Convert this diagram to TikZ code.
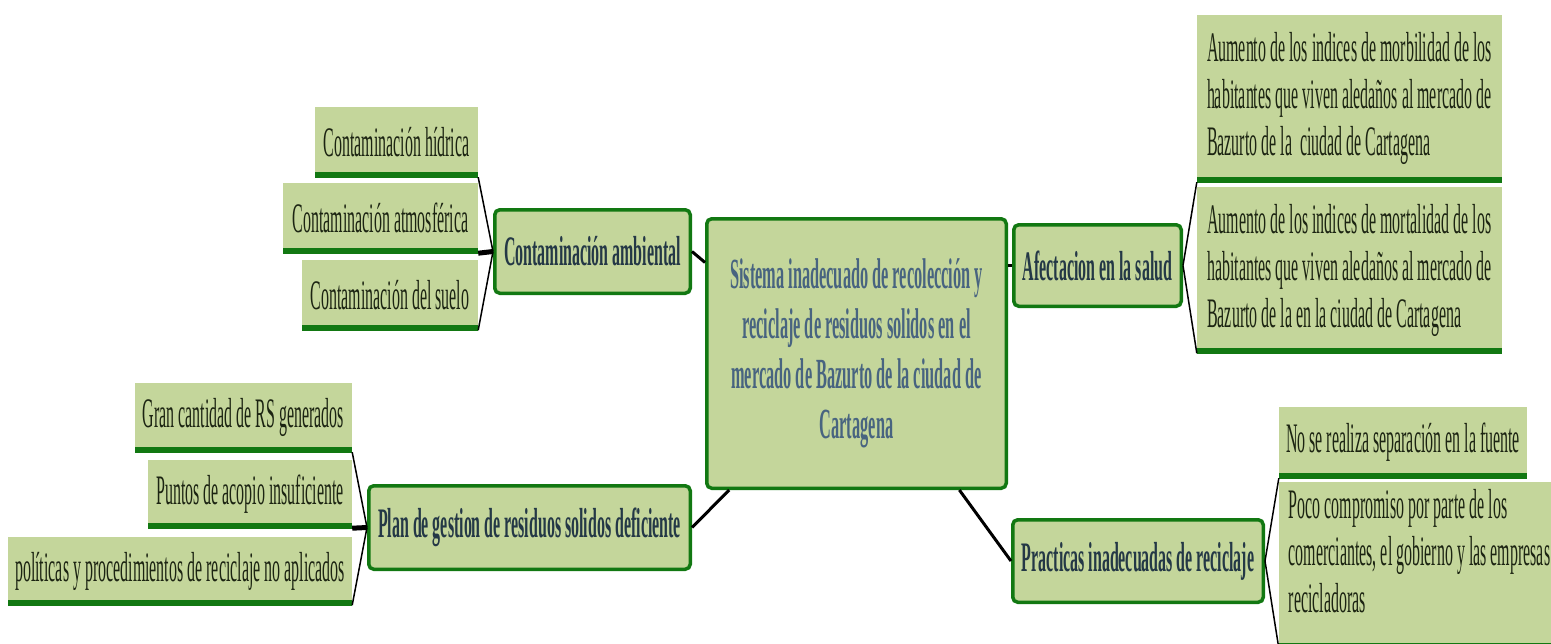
\documentclass[tikz,border=0pt]{standalone}
\usepackage{fontspec}
\setmainfont{Liberation Serif}
\newfontfamily\narrowserif[FakeStretch=0.38]{Liberation Serif}
\usetikzlibrary{positioning}

\definecolor{boxfill}{RGB}{196,214,155}
\definecolor{boxline}{RGB}{18,120,18}
\definecolor{maintext}{RGB}{72,100,128}
\definecolor{branchtext}{RGB}{36,56,70}
\definecolor{leaftext}{RGB}{28,36,18}

\begin{document}
\begin{tikzpicture}[
  x=1pt,y=-1pt,
  core/.style={draw=boxline,line width=3.5pt,rounded corners=5pt,fill=boxfill,
    align=center,text=maintext,font=\narrowserif\bfseries\fontsize{43}{50}\selectfont},
  branch/.style={draw=boxline,line width=3.5pt,rounded corners=5pt,fill=boxfill,
    inner sep=2pt,text=branchtext,font=\narrowserif\bfseries\fontsize{42}{47}\selectfont},
  leaf/.style={fill=boxfill,inner sep=4pt,text=leaftext,
    font=\narrowserif\fontsize{42}{47}\selectfont,
    path picture={\draw[boxline,line width=11pt] (path picture bounding box.south west)
      -- (path picture bounding box.south east);}},
  every edge/.style={draw,line width=1.5pt},
  trunk/.style={line width=3pt},
  stub/.style={line width=5pt},
]
  \path[use as bounding box,clip] (0,0) rectangle (1551,643);

  % Central problem
  \node[core,minimum width=299.5pt,minimum height=269.5pt] (central) at (856.5,353.5)
    {Sistema inadecuado de recolección y\\reciclaje de residuos solidos en el\\mercado de Bazurto de la ciudad de\\Cartagena};

  % Branches
  \node[branch,minimum width=195.5pt,minimum height=83.5pt] (ambiental) at (592.5,251.5) {Contaminación ambiental};
  \node[branch,minimum width=321.5pt,minimum height=83.5pt] (plan) at (529.5,527.5) {Plan de gestion de residuos solidos deficiente};
  \node[branch,minimum width=167.5pt,minimum height=81.5pt] (salud) at (1097.5,265.5) {Afectacion en la salud};
  \node[branch,minimum width=250.5pt,minimum height=82.5pt] (practicas) at (1138,561) {Practicas inadecuadas de reciclaje};

  % Leaves: contaminacion
  \node[leaf,minimum width=163pt,minimum height=70pt] (hidrica) at (396.5,142) {Contaminación hídrica};
  \node[leaf,minimum width=195pt,minimum height=70pt] (atmosfera) at (380.5,218) {Contaminación atmosférica};
  \node[leaf,minimum width=176pt,minimum height=70pt] (suelo) at (390,295) {Contaminación del suelo};

  % Leaves: plan
  \node[leaf,minimum width=217pt,minimum height=69pt] (cantidad) at (243.5,417.5) {Gran cantidad de RS generados};
  \node[leaf,minimum width=204pt,minimum height=68pt] (acopio) at (250,494) {Puntos de acopio insuficiente};
  \node[leaf,minimum width=344pt,minimum height=68pt] (politicas) at (180,571) {políticas y procedimientos de reciclaje no aplicados};

  % Leaves: salud
  \node[leaf,minimum width=305pt,minimum height=167pt,align=left] (morbilidad) at (1349.5,98.5)
    {Aumento de los indices de morbilidad de los\\habitantes que viven aledaños al mercado de\\Bazurto de la~ ciudad de Cartagena};
  \node[leaf,minimum width=305pt,minimum height=166pt,align=left] (mortalidad) at (1349.5,270)
    {Aumento de los indices de mortalidad de los\\habitantes que viven aledaños al mercado de\\Bazurto de la en la ciudad de Cartagena};

  % Leaves: practicas
  \node[leaf,minimum width=248pt,minimum height=71pt] (separacion) at (1403,442.5) {No se realiza separación en la fuente};
  \node[leaf,minimum width=281pt,minimum height=166pt,align=left] (compromiso) at (1419.5,565)
    {Poco compromiso por parte de los\\comerciantes, el gobierno y las empresas\\recicladoras\\[-19pt]\mbox{}};

  % Edges: central to branches
  \path (central.149) edge[trunk] (ambiental.east);
  \path (central.227) edge[trunk] (plan.east);
  \path (salud.west -| central.east) edge[trunk] (salud.west);
  \path (central.307) edge[trunk] (practicas.west);

  % Edges: branches to leaves
  \path (ambiental.west) edge (hidrica.south east);
  \path (ambiental.west) edge[stub] (atmosfera.south east);
  \path (ambiental.west) edge (suelo.south east);
  \path (plan.west) edge (cantidad.south east);
  \path (plan.west) edge[stub] (acopio.south east);
  \path (plan.west) edge (politicas.south east);
  \path (salud.east) edge (morbilidad.south west);
  \path (salud.east) edge (mortalidad.south west);
  \path (practicas.east) edge (separacion.south west);
  \path (practicas.east) edge (compromiso.south west);
\end{tikzpicture}
\end{document}
